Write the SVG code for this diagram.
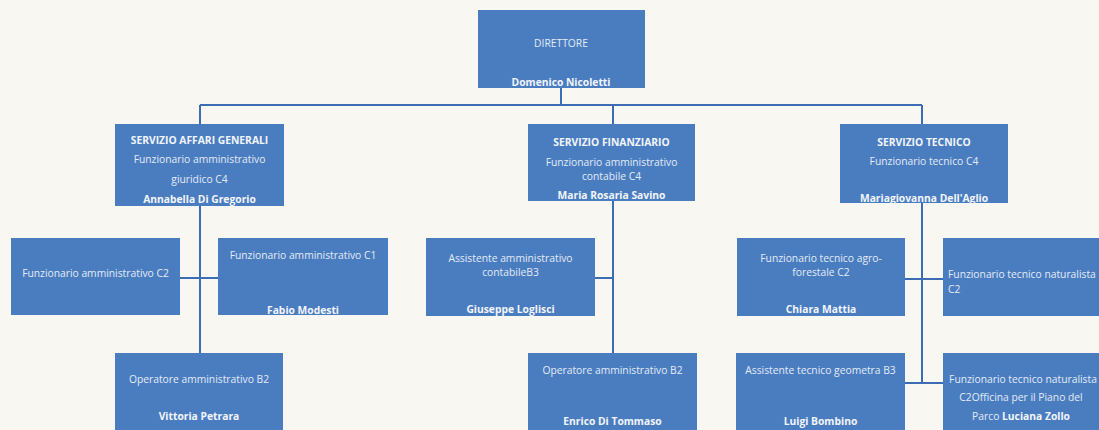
<svg xmlns="http://www.w3.org/2000/svg" width="1099" height="430" viewBox="0 0 1099 430">
<style>
.bg{fill:#f8f7f1}
.box{fill:#4a7dc0}
.t{font-family:"Open Sans","Liberation Sans",sans-serif;font-size:10.3px;fill:#e3ebf6;text-anchor:middle}
.b{font-weight:bold;fill:#f2f5fa}
.l{text-anchor:start}
.c{stroke:#3d6db3;stroke-width:2;fill:none}
</style>
<rect class="bg" x="0" y="0" width="1099" height="430"/>
<g id="connectors">
<path class="c" d="M561 88V105M200 105H922M200 105V124M613 105V124M922 105V124"/>
<path class="c" d="M200 206V353M180 278H218"/>
<path class="c" d="M613 201V353M595 278H613"/>
<path class="c" d="M922 203V383M905 279H943M905 383H943"/>
</g>
<g id="direttore">
<rect class="box" x="478" y="10" width="167" height="78"/>
<text class="t" x="561" y="47">DIRETTORE</text>
<text class="t b" x="561" y="86">Domenico Nicoletti</text>
</g>
<g id="affari-generali">
<rect class="box" x="115" y="124" width="169" height="82"/>
<text class="t b" x="199.5" y="144">SERVIZIO AFFARI GENERALI</text>
<text class="t" x="199.5" y="163">Funzionario amministrativo</text>
<text class="t" x="199.5" y="183">giuridico C4</text>
<text class="t b" x="199.5" y="203">Annabella Di Gregorio</text>
</g>
<g id="finanziario">
<rect class="box" x="528" y="124" width="167" height="77"/>
<text class="t b" x="611.5" y="146">SERVIZIO FINANZIARIO</text>
<text class="t" x="611.5" y="166">Funzionario amministrativo</text>
<text class="t" x="611.5" y="180">contabile C4</text>
<text class="t b" x="611.5" y="199">Maria Rosaria Savino</text>
</g>
<g id="tecnico">
<rect class="box" x="840" y="124" width="168" height="79"/>
<text class="t b" x="924" y="146">SERVIZIO TECNICO</text>
<text class="t" x="924" y="165">Funzionario tecnico C4</text>
<text class="t b" x="924" y="202">Mariagiovanna Dell'Aglio</text>
</g>
<g id="funz-c2">
<rect class="box" x="11" y="238" width="169" height="77"/>
<text class="t" x="95.5" y="277">Funzionario amministrativo C2</text>
</g>
<g id="funz-c1">
<rect class="box" x="218" y="238" width="170" height="77"/>
<text class="t" x="303" y="259">Funzionario amministrativo C1</text>
<text class="t b" x="303" y="314">Fabio Modesti</text>
</g>
<g id="assistente-contabile">
<rect class="box" x="426" y="238" width="169" height="78"/>
<text class="t" x="510.5" y="262">Assistente amministrativo</text>
<text class="t" x="510.5" y="276">contabileB3</text>
<text class="t b" x="510.5" y="313">Giuseppe Loglisci</text>
</g>
<g id="agro-forestale">
<rect class="box" x="737" y="238" width="168" height="78"/>
<text class="t" x="821" y="262">Funzionario tecnico agro-</text>
<text class="t" x="821" y="276">forestale C2</text>
<text class="t b" x="821" y="313">Chiara Mattia</text>
</g>
<g id="naturalista-1">
<rect class="box" x="943" y="238" width="160" height="78"/>
<text class="t l" x="948" y="278">Funzionario tecnico naturalista</text>
<text class="t l" x="948" y="293">C2</text>
</g>
<g id="operatore-ag">
<rect class="box" x="115" y="353" width="168" height="80"/>
<text class="t" x="199" y="383">Operatore amministrativo B2</text>
<text class="t b" x="199" y="420">Vittoria Petrara</text>
</g>
<g id="operatore-fin">
<rect class="box" x="528" y="353" width="169" height="80"/>
<text class="t" x="612.5" y="374">Operatore amministrativo B2</text>
<text class="t b" x="612.5" y="425">Enrico Di Tommaso</text>
</g>
<g id="geometra">
<rect class="box" x="736" y="353" width="169" height="80"/>
<text class="t" x="820.5" y="374">Assistente tecnico geometra B3</text>
<text class="t b" x="820.5" y="425">Luigi Bombino</text>
</g>
<g id="naturalista-2">
<rect class="box" x="943" y="353" width="160" height="80"/>
<text class="t" x="1023" y="383">Funzionario tecnico naturalista</text>
<text class="t" x="1021" y="401">C2Officina per il Piano del</text>
<text class="t" x="1021" y="420">Parco <tspan class="b">Luciana Zollo</tspan></text>
</g>
</svg>
